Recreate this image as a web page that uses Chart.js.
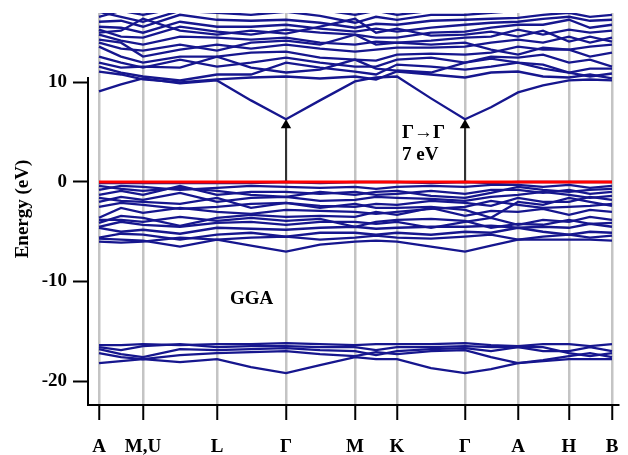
<!DOCTYPE html>
<html lang="en">
<head>
  <meta charset="UTF-8">
  <title>GGA band structure</title>
  <script src="https://cdn.jsdelivr.net/npm/chart.js"></script>
  <style>
    body { margin: 0; background: #fff; }
    canvas { display: block; }
  </style>
</head>
<body>
  <canvas id="bands" width="628" height="455"></canvas>

  <script>
    // k-path sampling (distance along path) and the high-symmetry points
    const kx = [0, 22, 44, 81, 118, 152, 187, 221, 256, 277, 298, 332, 366, 392, 419, 444, 470, 491, 513];
    const symPos = [0, 44, 118, 187, 256, 298, 366, 419, 470, 513];
    const symLabels = ['A', 'M,U', 'L', 'Γ', 'M', 'K', 'Γ', 'A', 'H', 'B'];
    const yTicks = [-20, -10, 0, 10];

    // energies in eV, one row per band, sampled at kx
    const conductionBands = [
      [9.1, 9.8, 10.4, 9.9, 10.2, 8.2, 6.3, 8.2, 10.1, 10.5, 10.6, 8.4, 6.3, 7.5, 9.0, 9.7, 10.2, 10.3, 10.2],
      [11.1, 10.8, 10.3, 10.0, 10.3, 10.5, 10.6, 10.4, 10.6, 10.3, 11.1, 10.8, 10.5, 11.0, 11.1, 10.6, 10.5, 10.8, 10.4],
      [11.6, 11.0, 10.6, 10.2, 10.8, 10.8, 12.0, 11.5, 11.1, 10.8, 11.8, 11.6, 11.3, 11.6, 12.0, 11.4, 11.0, 10.6, 10.9],
      [12.6, 12.0, 11.5, 12.3, 11.6, 12.0, 12.5, 12.0, 11.6, 11.6, 12.3, 12.5, 12.0, 12.6, 12.5, 12.8, 12.0, 12.3, 11.6],
      [13.6, 12.6, 12.0, 12.6, 12.6, 13.0, 13.1, 12.5, 12.3, 12.2, 12.8, 12.9, 12.8, 13.0, 13.6, 13.3, 13.3, 12.6, 13.0],
      [14.3, 14.0, 12.6, 13.3, 13.8, 13.4, 13.8, 13.4, 13.1, 13.3, 13.5, 13.5, 13.6, 14.0, 14.3, 14.0, 14.6, 14.0, 14.5],
      [14.8, 14.2, 13.8, 14.6, 14.5, 14.3, 14.5, 14.0, 13.8, 14.1, 14.0, 14.2, 14.5, 14.6, 15.3, 14.8, 15.3, 15.0, 15.2],
      [15.3, 14.6, 14.5, 15.6, 15.1, 14.8, 15.3, 15.0, 14.8, 14.5, 14.5, 15.0, 15.1, 15.5, 15.8, 15.8, 16.3, 15.5, 15.8],
      [15.6, 15.5, 15.0, 16.1, 15.6, 15.6, 15.8, 15.4, 15.1, 15.4, 15.1, 15.5, 15.8, 16.0, 16.1, 16.4, 16.6, 16.2, 16.3],
      [16.1, 16.2, 15.6, 16.8, 16.3, 16.2, 16.3, 16.0, 15.5, 15.9, 15.8, 16.2, 16.3, 16.4, 16.5, 16.8, 17.0, 16.6, 16.8],
      [17.1, 16.6, 16.1, 17.2, 17.0, 16.8, 17.1, 16.7, 16.0, 16.6, 16.3, 16.8, 16.8, 17.0, 17.2, 17.2, 17.4, 17.2, 17.2],
      [16.6, 17.2, 16.8, 17.5, 17.3, 17.4, 17.5, 17.3, 16.8, 17.2, 16.8, 17.2, 17.4, 17.3, 17.6, 17.5, 17.6, 17.5, 17.5],
      [14.0, 13.4, 13.2, 13.8, 13.2, 14.0, 14.2, 13.8, 14.8, 13.8, 14.0, 13.8, 14.0, 13.3, 12.8, 13.5, 13.3, 13.6, 13.8],
      [12.0, 11.5, 11.6, 11.5, 12.6, 11.5, 11.0, 11.3, 12.3, 11.4, 11.2, 11.0, 12.0, 12.4, 12.0, 11.8, 11.0, 11.4, 11.4],
      [15.0, 15.2, 16.4, 15.2, 14.8, 15.2, 14.9, 15.6, 16.4, 15.0, 15.4, 14.7, 14.8, 15.1, 14.6, 15.2, 14.1, 14.6, 14.1]
    ];

    const valenceBands = [
      [-0.1, -0.1, -0.1, -0.1, -0.1, -0.1, 0, -0.1, 0, 0, 0, -0.1, 0, -0.1, 0, 0, 0, 0, 0],
      [-0.8, -0.4, -0.5, -0.8, -0.6, -0.4, -0.5, -0.6, -0.5, -0.7, -0.5, -0.4, -0.5, -0.3, -0.3, -0.5, -0.3, -0.6, -0.4],
      [-1.3, -0.9, -1.3, -0.4, -1.3, -1.0, -1.0, -1.2, -1.0, -1.3, -1.2, -0.9, -1.2, -0.8, -0.8, -1.1, -0.8, -1.2, -1.0],
      [-2.0, -1.5, -1.8, -1.1, -2.0, -1.6, -1.5, -1.9, -1.8, -1.5, -1.6, -1.7, -1.9, -1.5, -1.3, -1.0, -1.3, -1.6, -1.4],
      [-2.5, -2.1, -2.3, -2.7, -2.5, -2.2, -2.1, -2.4, -2.5, -2.2, -2.3, -1.9, -2.1, -2.4, -1.6, -2.0, -2.0, -1.5, -1.8],
      [-3.6, -2.6, -3.1, -2.6, -3.0, -3.2, -2.8, -2.9, -3.0, -3.2, -3.0, -2.7, -2.5, -1.9, -2.3, -2.6, -2.5, -2.4, -2.2],
      [-4.1, -3.4, -3.6, -4.4, -3.6, -3.3, -3.5, -3.4, -3.5, -3.0, -3.3, -2.6, -3.4, -2.9, -3.0, -2.7, -3.3, -2.8, -3.0],
      [-4.5, -4.0, -4.3, -4.5, -4.1, -4.0, -4.3, -4.0, -4.0, -4.2, -4.0, -4.6, -4.0, -3.6, -4.3, -3.8, -4.0, -3.5, -3.8],
      [-4.6, -5.0, -4.8, -5.2, -4.6, -4.7, -4.8, -4.6, -4.5, -4.7, -4.6, -4.5, -4.5, -4.4, -4.6, -4.5, -4.6, -4.2, -4.5],
      [-5.6, -5.2, -5.3, -5.8, -5.3, -5.1, -5.5, -5.1, -5.1, -5.3, -5.1, -5.3, -5.0, -5.1, -4.6, -5.0, -5.3, -5.0, -5.1],
      [-6.0, -6.1, -6.0, -5.6, -5.8, -5.6, -5.5, -5.8, -5.6, -5.4, -5.6, -5.7, -5.5, -5.3, -5.8, -5.5, -5.3, -5.6, -5.4],
      [-5.7, -5.8, -5.9, -6.5, -5.8, -6.4, -7.0, -6.3, -6.0, -5.9, -6.0, -6.5, -7.0, -6.4, -5.8, -5.8, -5.8, -5.8, -5.9],
      [-1.6, -1.9, -2.0, -2.2, -1.6, -2.6, -2.1, -2.6, -2.2, -2.6, -2.6, -2.5, -2.8, -3.6, -2.0, -2.3, -1.6, -2.0, -2.4],
      [-3.8, -3.8, -4.0, -3.5, -3.9, -3.6, -3.9, -3.7, -4.5, -4.0, -3.8, -3.7, -3.9, -4.6, -4.2, -4.3, -3.8, -4.2, -4.1],
      [-0.4, -0.7, -0.9, -0.6, -0.9, -1.3, -1.5, -1.0, -1.3, -1.0, -0.9, -1.4, -1.6, -1.1, -0.5, -0.8, -1.0, -0.8, -0.7]
    ];

    const coreBands = [
      [-16.4, -16.4, -16.3, -16.4, -16.3, -16.3, -16.2, -16.3, -16.4, -16.3, -16.3, -16.3, -16.2, -16.4, -16.5, -16.3, -16.3, -16.5, -16.3],
      [-16.6, -16.9, -16.5, -16.3, -16.6, -16.5, -16.5, -16.6, -16.6, -16.9, -16.6, -16.6, -16.5, -16.6, -16.6, -17.0, -17.0, -16.6, -17.0],
      [-16.8, -17.3, -17.6, -16.8, -16.9, -16.8, -16.7, -16.9, -17.0, -17.4, -17.0, -16.8, -16.7, -17.0, -16.6, -16.6, -17.2, -17.5, -17.2],
      [-17.2, -17.6, -17.8, -17.4, -17.2, -17.1, -17.0, -17.3, -17.5, -17.1, -17.3, -17.0, -16.9, -17.6, -18.2, -17.9, -17.5, -17.2, -17.6],
      [-18.2, -18.0, -17.8, -18.1, -17.8, -18.6, -19.2, -18.4, -17.6, -17.8, -17.8, -18.7, -19.2, -18.8, -18.2, -18.0, -17.8, -17.8, -17.8]
    ];

    const fermiLevel = 0;
    const gapArrowX = [187, 366];
    const gapArrowTop = 5.7;

    const notes = [
      { text: 'GGA', x: 131, y: -11.8 },
      { text: 'Γ→Γ', x: 303, y: 4.9 },
      { text: '7 eV', x: 303, y: 2.7 }
    ];

    const serif = "'Liberation Serif', 'Times New Roman', serif";
    const bandColor = '#16168e';

    const datasets = [];
    datasets.push({
      data: [{ x: 0, y: fermiLevel }, { x: 513, y: fermiLevel }],
      borderColor: '#ff0000', borderWidth: 3, pointRadius: 0
    });
    gapArrowX.forEach(x => {
      datasets.push({
        data: [{ x: x, y: fermiLevel + 0.1 }, { x: x, y: gapArrowTop }],
        borderColor: '#000', backgroundColor: '#000', borderWidth: 1.5,
        pointStyle: 'triangle', pointRadius: [0, 6], pointBorderWidth: 0
      });
    });
    [conductionBands, valenceBands, coreBands].forEach(group => {
      group.forEach(band => {
        datasets.push({
          data: band.map((e, i) => ({ x: kx[i], y: e })),
          borderColor: bandColor, borderWidth: 2.3, pointRadius: 0, tension: 0
        });
      });
    });

    const extras = {
      id: 'extras',
      afterDraw(chart) {
        const { ctx, chartArea, scales } = chart;
        const xs = scales.x, ys = scales.y;
        ctx.save();
        // y axis spine (starts just above 10 eV as in the original)
        ctx.strokeStyle = '#000';
        ctx.lineWidth = 2;
        ctx.beginPath();
        ctx.moveTo(chartArea.left, ys.getPixelForValue(10.55));
        ctx.lineTo(chartArea.left, chartArea.bottom + 1);
        ctx.stroke();
        // labels inside the plot
        ctx.fillStyle = '#000';
        ctx.textAlign = 'left';
        ctx.textBaseline = 'middle';
        ctx.font = 'bold 19px ' + serif;
        notes.forEach(n => ctx.fillText(n.text, xs.getPixelForValue(n.x), ys.getPixelForValue(n.y)));
        ctx.restore();
      }
    };

    new Chart(document.getElementById('bands'), {
      type: 'line',
      data: { datasets },
      options: {
        responsive: false,
        devicePixelRatio: 1,
        animation: false,
        layout: { autoPadding: false, padding: { top: 13, right: 10, left: 0, bottom: 0 } },
        plugins: { legend: { display: false }, tooltip: { enabled: false } },
        scales: {
          x: {
            type: 'linear', min: -11, max: 519,
            afterBuildTicks: s => { s.ticks = symPos.map(v => ({ value: v })); },
            afterFit: s => { s.height = 50; s.paddingLeft = 0; s.paddingRight = 0; },
            grid: { color: '#c4c4c4', lineWidth: 2.5, tickColor: '#000', tickWidth: 2, tickLength: 15 },
            border: { display: true, color: '#000', width: 2 },
            ticks: {
              autoSkip: false, maxRotation: 0, padding: 16, color: '#000',
              font: { family: serif, size: 19, weight: 'bold' },
              callback: (v) => symLabels[symPos.indexOf(v)]
            }
          },
          y: {
            type: 'linear', min: -22.41, max: 16.98,
            afterBuildTicks: s => { s.ticks = yTicks.map(v => ({ value: v })); },
            afterFit: s => { s.width = 88; s.paddingTop = 0; s.paddingBottom = 0; },
            grid: { drawOnChartArea: false, tickColor: '#000', tickWidth: 2, tickLength: 15 },
            border: { display: false },
            ticks: {
              padding: 6, color: '#000',
              font: { family: serif, size: 19, weight: 'bold' }
            },
            title: {
              display: true, text: 'Energy (eV)', color: '#000',
              font: { family: serif, size: 19, weight: 'bold' },
              padding: { top: 12, bottom: 0 }
            }
          }
        }
      },
      plugins: [extras]
    });
  </script>
</body>
</html>
